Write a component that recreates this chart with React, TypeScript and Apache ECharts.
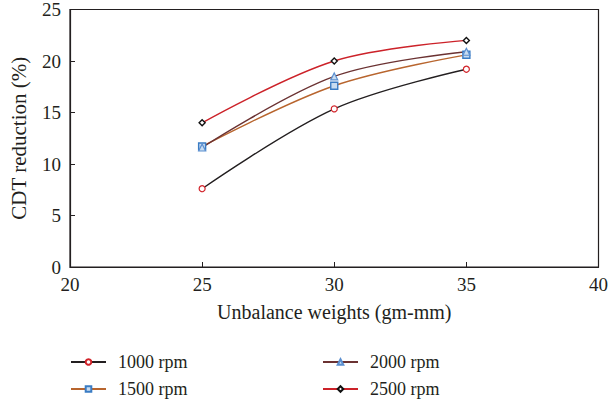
import React, { useEffect, useRef } from "react";
import * as echarts from "echarts";

const xValues = [25, 30, 35];
const rpm1000 = [7.6, 15.35, 19.2];
const rpm1500 = [11.7, 17.6, 20.6];
const rpm2000 = [11.6, 18.5, 20.9];
const rpm2500 = [14.0, 20.0, 22.0];
const xTicks = { min: 20, max: 40, interval: 5 };
const yTicks = { min: 0, max: 25, interval: 5 };

const FONT = "Liberation Serif";
const TXT = "#231f20";

export default function App() {
  const ref = useRef<HTMLDivElement>(null);
  useEffect(() => {
    const chart = echarts.init(ref.current!, undefined, { renderer: "svg" });
    const mk = (vals: number[]) => xValues.map((x, i) => [x, vals[i]]);
    const series: any[] = [
      {
        name: "1000 rpm",
        data: mk(rpm1000),
        lineColor: "#231f20",
        symbol: "circle",
        symbolSize: 6,
        itemStyle: { color: "#fff", borderColor: "#d2232a", borderWidth: 1.2 },
      },
      {
        name: "1500 rpm",
        data: mk(rpm1500),
        lineColor: "#b8652e",
        symbol: "rect",
        symbolSize: 7,
        itemStyle: { color: "#c8dcf0", borderColor: "#3a7cc4", borderWidth: 1.4 },
      },
      {
        name: "2000 rpm",
        data: mk(rpm2000),
        lineColor: "#6b3232",
        symbol: "triangle",
        symbolSize: 7,
        itemStyle: { color: "#c8dcf0", borderColor: "#5b8fd0", borderWidth: 1.2 },
      },
      {
        name: "2500 rpm",
        data: mk(rpm2500),
        lineColor: "#cc2229",
        symbol: "diamond",
        symbolSize: 6,
        itemStyle: { color: "#fff", borderColor: "#111", borderWidth: 1.4 },
      },
    ].map((s) => ({
      type: "line",
      name: s.name,
      data: s.data,
      smooth: 0.35,
      symbol: s.symbol,
      symbolSize: s.symbolSize,
      showAllSymbol: true,
      lineStyle: { color: s.lineColor, width: 1.4 },
      itemStyle: s.itemStyle,
      z: 3,
    }));

    const legendBase = {
      orient: "vertical" as const,
      padding: 0,
      height: 120,
      itemWidth: 35,
      itemHeight: 7,
      itemGap: 9,
      textStyle: {
        fontFamily: FONT,
        fontSize: 18,
        lineHeight: 18,
        color: TXT,
        padding: [0, 0, 0, 7],
      },
    };

    chart.setOption({
      animation: false,
      grid: {
        left: 70,
        right: 9,
        top: 8,
        bottom: 139,
        show: true,
        borderColor: "#231f20",
        borderWidth: 1.2,
        backgroundColor: "transparent",
      },
      legend: [
        { ...legendBase, left: 70, top: 353, data: ["1000 rpm", "1500 rpm"] },
        { ...legendBase, left: 322, top: 353, data: ["2000 rpm", "2500 rpm"] },
      ],
      xAxis: {
        type: "value",
        min: xTicks.min,
        max: xTicks.max,
        interval: xTicks.interval,
        name: "Unbalance weights (gm-mm)",
        nameLocation: "middle",
        nameGap: 35,
        nameTextStyle: { fontFamily: FONT, fontSize: 20, color: TXT },
        axisLine: { lineStyle: { color: "#231f20", width: 1.2 } },
        axisTick: { inside: true, length: 5, lineStyle: { color: "#231f20" } },
        axisLabel: { fontFamily: FONT, fontSize: 19, color: TXT, margin: 8 },
        splitLine: { show: false },
      },
      yAxis: {
        type: "value",
        min: yTicks.min,
        max: yTicks.max,
        interval: yTicks.interval,
        name: "CDT reduction (%)",
        nameLocation: "middle",
        nameGap: 41,
        nameTextStyle: { fontFamily: FONT, fontSize: 21, color: TXT },
        axisLine: { show: true, lineStyle: { color: "#231f20", width: 1.2 } },
        axisTick: { show: true, inside: true, length: 5, lineStyle: { color: "#231f20" } },
        axisLabel: { fontFamily: FONT, fontSize: 19, color: TXT, margin: 9 },
        splitLine: { show: false },
      },
      series,
    });
    return () => chart.dispose();
  }, []);
  return <div ref={ref} style={{ width: 611, height: 406, position: "absolute", left: 0, top: 0 }} />;
}
